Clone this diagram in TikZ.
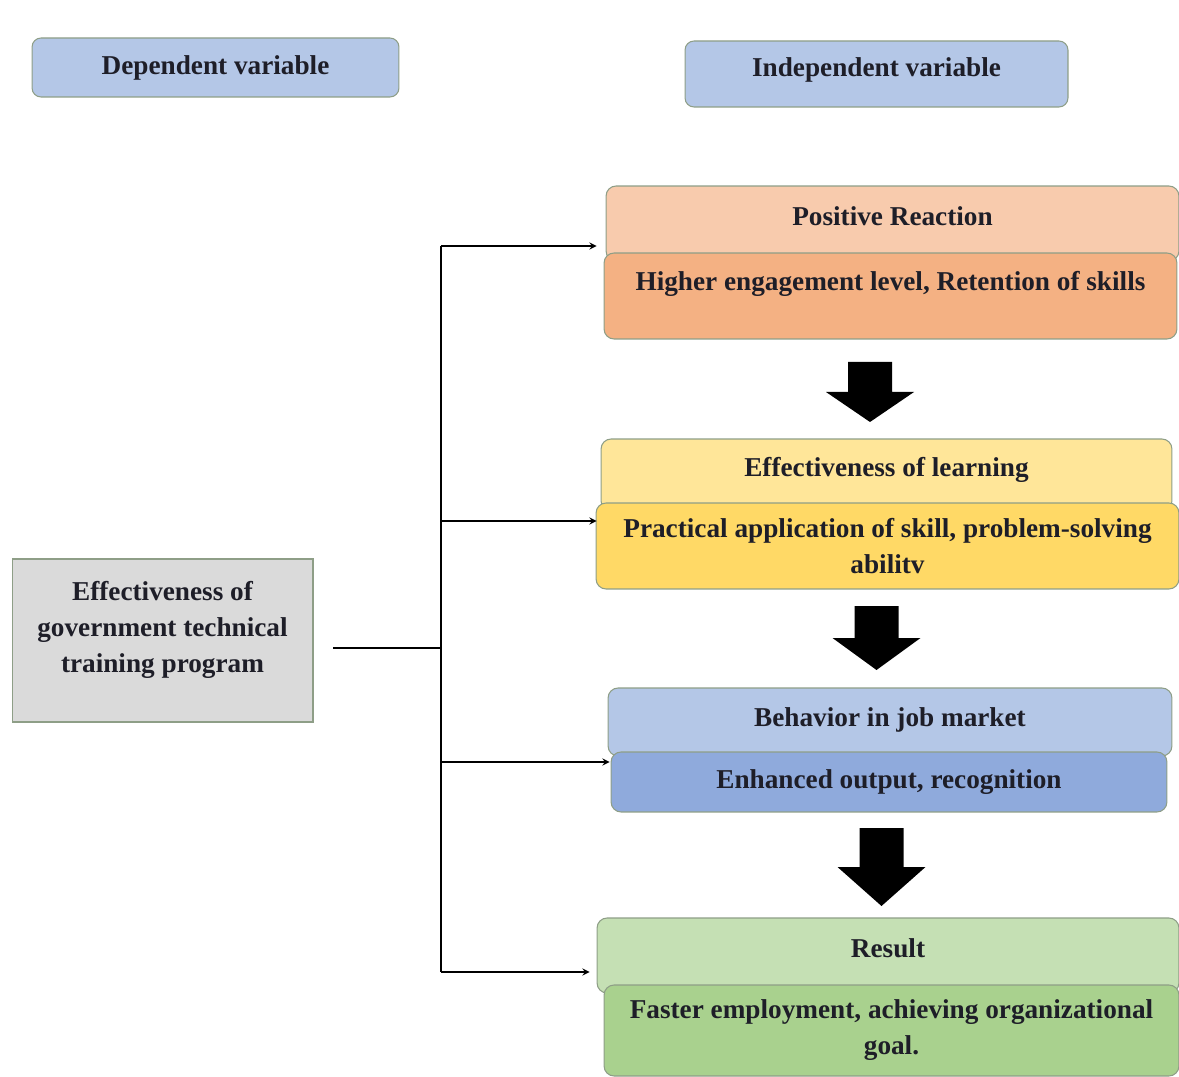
\documentclass[tikz,border=0pt]{standalone}
\usepackage{fontspec}
\setmainfont{Liberation Serif}
\usetikzlibrary{calc,arrows}

\definecolor{varblue}{HTML}{B4C7E7}
\definecolor{edgecol}{HTML}{8E9E87}
\definecolor{proggray}{HTML}{DADADA}
\definecolor{oratop}{HTML}{F8CBAD}
\definecolor{orabot}{HTML}{F4B183}
\definecolor{yeltop}{HTML}{FFE699}
\definecolor{yelbot}{HTML}{FFD966}
\definecolor{blutop}{HTML}{B4C7E7}
\definecolor{blubot}{HTML}{8FAADC}
\definecolor{grntop}{HTML}{C5E0B4}
\definecolor{grnbot}{HTML}{A9D18E}
\definecolor{inkcol}{HTML}{1E1E28}

\begin{document}
\begin{tikzpicture}
    [x=0.02cm,y=-0.02cm,%
      every node/.style={shape=rectangle,draw=edgecol,line width=0.6pt,
        inner sep=2pt,align=center,text=inkcol,
        font=\fontsize{15.5}{20.5}\selectfont\bfseries},%
      varbox/.style={rounded corners=0.18cm,fill=varblue},%
      stackbox/.style={rounded corners=0.2cm,fill=#1},%
      link/.style={draw=black,line width=0.8pt},%
      raised/.style={text depth=#1}]
    \useasboundingbox (0,0) rectangle (1179,1077);

    % headings
    \node[varbox,minimum width=7.34cm,minimum height=1.18cm] (dep) at (215.5,67.5) {Dependent variable};
    \node[varbox,minimum width=7.66cm,minimum height=1.32cm,raised=8pt] (indep) at (876.5,74) {Independent variable};

    % dependent variable
    \node[fill=proggray,minimum width=6.02cm,minimum height=3.26cm,raised=16pt] (prog) at (162.5,640.5)
      {Effectiveness of\\government technical\\training program};

    % stacks, upper box first so the lower one covers its edge
    \node[stackbox=oratop,minimum width=11.46cm,minimum height=1.5cm,raised=8pt] (react) at (892.5,223.5) {Positive Reaction};
    \node[stackbox=orabot,minimum width=11.46cm,minimum height=1.72cm,raised=17pt] (reactb) at (890.5,296)
      {Higher engagement level, Retention of skills};

    \node[stackbox=yeltop,minimum width=11.42cm,minimum height=1.44cm,raised=9pt] (learn) at (886.5,475) {Effectiveness of learning};
    \node[stackbox=yelbot,minimum width=11.66cm,minimum height=1.72cm] (learnb) at (887.5,546)
      {Practical application of skill, problem-solving\\abilitv};

    \node[stackbox=blutop,minimum width=11.28cm,minimum height=1.36cm,raised=6pt] (behav) at (890,722) {Behavior in job market};
    \node[stackbox=blubot,minimum width=11.12cm,minimum height=1.2cm] (behavb) at (889,782)
      {Enhanced output, recognition};

    \node[stackbox=grntop,minimum width=11.64cm,minimum height=1.5cm,raised=8pt] (result) at (888,955.5) {Result};
    \node[stackbox=grnbot,minimum width=11.5cm,minimum height=1.82cm] (resultb) at (891.5,1030.5)
      {Faster employment, achieving organizational\\goal.};

    % block arrows between the stacks
    \foreach \x/\t/\b in {870/362/422, 876.5/606/670, 881.5/828/906}
      \fill[black] (\x-22,\t) -- (\x+22,\t) -- (\x+22,{(\t+\b)/2}) -- (\x+44,{(\t+\b)/2})
        -- (\x,\b) -- (\x-44,{(\t+\b)/2}) -- (\x-22,{(\t+\b)/2}) -- cycle;

    % spine and branches
    \coordinate (split) at (441,648);
    \coordinate (b1) at (441,246);
    \coordinate (b2) at (441,521);
    \coordinate (b3) at (441,762);
    \coordinate (b4) at (441,972);
    \draw[link] ([xshift=0.4cm]prog.east |- split) -- (split);
    \draw[link] (b1) -- (b4);
    \draw[link,->,>=stealth] (b1) -- ([xshift=-0.18cm]b1 -| react.west);
    \draw[link,->,>=stealth] (b2) -- ([xshift=0.02cm]b2 -| learnb.west);
    \draw[link,->,>=stealth] (b3) -- ([xshift=-0.02cm]b3 -| behavb.west);
    \draw[link,->,>=stealth] (b4) -- ([xshift=-0.14cm]b4 -| result.west);
\end{tikzpicture}
\end{document}
